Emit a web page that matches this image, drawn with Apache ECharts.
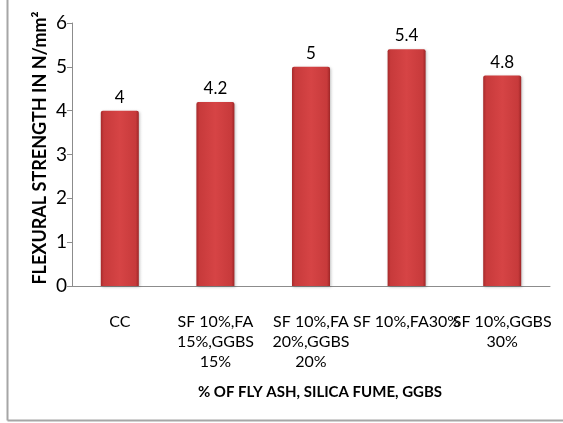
<!DOCTYPE html>
<html>
<head>
<meta charset="utf-8">
<script src="https://cdn.jsdelivr.net/npm/echarts@6/dist/echarts.min.js"></script>
<style>
  html, body { margin: 0; padding: 0; background: #fff; }
  #chart { width: 563px; height: 423px; }
</style>
</head>
<body>
<div id="chart"></div>
<script>
// Mix designs and their flexural strength (N/mm²)
const categories = [
  'CC',
  'SF 10%,FA\n15%,GGBS\n15%',
  'SF 10%,FA\n20%,GGBS\n20%',
  'SF 10%,FA30%',
  'SF 10%,GGBS\n30%'
];
const strength = [4, 4.2, 5, 5.4, 4.8];
const yTicks = [0, 1, 2, 3, 4, 5, 6];

const FONT = 'Lato, "Open Sans", sans-serif';

const chart = echarts.init(document.getElementById('chart'), null, { renderer: 'canvas' });

const barFill = new echarts.graphic.LinearGradient(0, 0, 1, 0, [
  { offset: 0, color: '#a52a2b' },
  { offset: 0.08, color: '#c73a3b' },
  { offset: 0.5, color: '#d64445' },
  { offset: 0.92, color: '#c73a3b' },
  { offset: 1, color: '#9e2627' }
]);

chart.setOption({
  animation: false,
  backgroundColor: '#ffffff',
  grid: { left: 72, right: 13, top: 23, bottom: 137, containLabel: false },
  xAxis: {
    type: 'category',
    data: categories,
    axisLine: { show: true, lineStyle: { color: '#8c8c8c', width: 1 } },
    axisTick: { show: false },
    axisLabel: {
      interval: 0,
      margin: 26,
      fontFamily: FONT,
      fontSize: 16,
      lineHeight: 20,
      color: '#000',
      align: 'center'
    }
  },
  yAxis: {
    type: 'value',
    min: yTicks[0],
    max: yTicks[yTicks.length - 1],
    interval: 1,
    axisLine: { show: true, lineStyle: { color: '#8c8c8c', width: 1 } },
    axisTick: { show: true, length: 5, lineStyle: { color: '#8c8c8c' } },
    splitLine: { show: false },
    axisLabel: {
      margin: 5,
      fontFamily: FONT,
      fontSize: 19,
      color: '#000'
    }
  },
  series: [{
    type: 'bar',
    data: strength,
    barWidth: 38,
    itemStyle: {
      color: barFill,
      borderRadius: [2, 2, 0, 0],
      shadowColor: 'rgba(0,0,0,0.25)',
      shadowBlur: 3,
      shadowOffsetX: 1,
      shadowOffsetY: 1
    },
    label: {
      show: true,
      position: 'top',
      distance: 5,
      fontFamily: FONT,
      fontSize: 17,
      color: '#000'
    }
  }],
  graphic: [
    // frame around the chart area
    { type: 'line', shape: { x1: 7.5, y1: 0, x2: 7.5, y2: 420.5 }, style: { stroke: '#a6a6a6', lineWidth: 2 } },
    { type: 'line', shape: { x1: 7.5, y1: 420.5, x2: 563, y2: 420.5 }, style: { stroke: '#a6a6a6', lineWidth: 2 } },
    // axis titles
    {
      type: 'text',
      x: 40, y: 148,
      rotation: Math.PI / 2,
      style: {
        text: 'FLEXURAL STRENGTH IN N/mm²',
        font: 'bold 18px ' + FONT,
        fill: '#000',
        textAlign: 'center',
        textVerticalAlign: 'middle'
      }
    },
    {
      type: 'text',
      x: 320, y: 392,
      style: {
        text: '% OF FLY ASH, SILICA FUME, GGBS',
        font: 'bold 15px ' + FONT,
        fill: '#000',
        textAlign: 'center',
        textVerticalAlign: 'middle'
      }
    }
  ]
});
</script>
</body>
</html>
